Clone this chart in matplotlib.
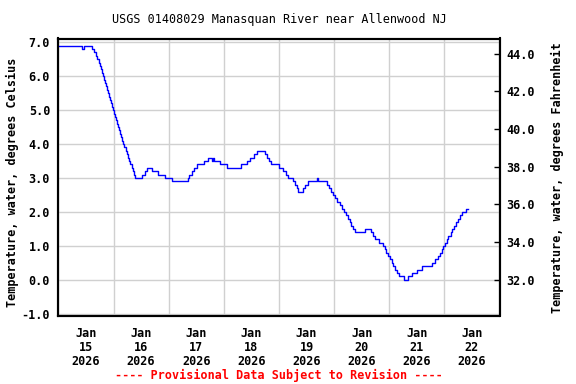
import matplotlib
matplotlib.use('Agg')
import matplotlib.pyplot as plt
import matplotlib.dates as mdates
from matplotlib.ticker import FormatStrFormatter
import numpy as np
import pandas as pd

start = pd.Timestamp('2026-01-15 00:00')

# hours since Jan 15 00:00 where the reading changes (step series)
hours = [0.0, 10.4, 11.15, 14.76, 15.5, 16.15, 16.8, 17.46, 18.11, 18.55,
         18.98, 19.42, 19.85, 20.29, 20.72, 21.16, 21.59, 22.03, 22.46, 22.9,
         23.33, 23.77, 24.2, 24.64, 25.07, 25.51, 25.94, 26.38, 26.81, 27.25,
         27.68, 28.12, 28.64, 29.21, 29.73, 30.3, 30.82, 31.34, 31.87, 32.39,
         32.91, 33.48, 36.52, 37.7, 38.7, 40.88, 43.14, 46.41, 49.24, 56.29,
         56.98, 58.03, 59.16, 60.21, 63.51, 65.26, 66.74, 67.43, 67.87, 70.35,
         73.27, 79.36, 82.23, 83.41, 85.15, 86.59, 89.94, 90.68, 91.68, 92.55,
         96.16, 97.91, 99.08, 100.08, 102.0, 103.0, 103.74, 104.44, 106.61, 107.35,
         108.79, 112.58, 113.14, 117.06, 117.93, 118.8, 119.67, 120.54, 121.41, 122.37,
         123.33, 124.33, 125.2, 126.07, 126.81, 127.51, 128.25, 129.12, 133.47, 135.95,
         137.09, 137.83, 139.57, 141.09, 141.96, 142.61, 143.49, 144.27, 145.01, 145.79,
         146.53, 147.4, 148.4, 150.58, 152.32, 153.8, 155.98, 158.16, 162.77, 163.95,
         165.38, 166.12, 166.86, 167.43, 168.3, 169.04, 169.74, 170.69, 171.35, 172.22,
         173.09, 173.96, 174.83, 175.83, 177.22, 178.18]

temp_c = [6.9, 6.8, 6.9, 6.8, 6.7, 6.6, 6.5, 6.4, 6.3, 6.2,
          6.1, 6.0, 5.9, 5.8, 5.7, 5.6, 5.5, 5.4, 5.3, 5.2,
          5.1, 5.0, 4.9, 4.8, 4.7, 4.6, 4.5, 4.4, 4.3, 4.2,
          4.1, 4.0, 3.9, 3.8, 3.7, 3.6, 3.5, 3.4, 3.3, 3.2,
          3.1, 3.0, 3.1, 3.2, 3.3, 3.2, 3.1, 3.0, 2.9, 3.0,
          3.1, 3.2, 3.3, 3.4, 3.5, 3.6, 3.5, 3.6, 3.5, 3.4,
          3.3, 3.4, 3.5, 3.6, 3.7, 3.8, 3.7, 3.6, 3.5, 3.4,
          3.3, 3.2, 3.1, 3.0, 2.9, 2.8, 2.7, 2.6, 2.7, 2.8,
          2.9, 3.0, 2.9, 2.8, 2.7, 2.6, 2.5, 2.4, 2.3, 2.2,
          2.1, 2.0, 1.9, 1.8, 1.7, 1.6, 1.5, 1.4, 1.5, 1.4,
          1.3, 1.2, 1.1, 1.0, 0.9, 0.8, 0.7, 0.6, 0.5, 0.4,
          0.3, 0.2, 0.1, 0.0, 0.1, 0.2, 0.3, 0.4, 0.5, 0.6,
          0.7, 0.8, 0.9, 1.0, 1.1, 1.2, 1.3, 1.4, 1.5, 1.6,
          1.7, 1.8, 1.9, 2.0, 2.1, 2.1]

day_labels = ['Jan\n15\n2026', 'Jan\n16\n2026', 'Jan\n17\n2026', 'Jan\n18\n2026',
              'Jan\n19\n2026', 'Jan\n20\n2026', 'Jan\n21\n2026', 'Jan\n22\n2026']
c_ticks = [-1, 0, 1, 2, 3, 4, 5, 6, 7]
f_ticks = [32, 34, 36, 38, 40, 42, 44]

times = [start + pd.Timedelta(hours=h) for h in hours]
noons = [start + pd.Timedelta(hours=12 + 24 * i) for i in range(len(day_labels))]

font = 'DejaVu Sans Mono'
fs = 8.5

fig = plt.figure(figsize=(5.76, 3.84), dpi=100)
ax = fig.add_axes([58.4 / 576, 1 - 315.5 / 384, (499.5 - 58.4) / 576, (315.5 - 38.5) / 384])

ax.plot(times, temp_c, drawstyle='steps-post', color='#0000ff', lw=1)

ax.set_xlim(start, start + pd.Timedelta(days=8))
ax.set_ylim(-1.05, 7.11)
ax.set_yticks(c_ticks)
ax.yaxis.set_major_formatter(FormatStrFormatter('%.1f'))
ax.xaxis.set_major_locator(mdates.DayLocator())
ax.xaxis.set_major_formatter(plt.NullFormatter())
ax.set_xticks(noons, labels=day_labels, minor=True, linespacing=1.1,
              family=font, fontsize=fs, fontweight='bold')
ax.tick_params(axis='x', which='both', length=0, pad=8)
ax.tick_params(axis='y', length=0, pad=6, labelsize=fs)
for lab in ax.get_yticklabels():
    lab.set_family(font)
    lab.set_fontweight('bold')
ax.grid(True, which='major', color='#d0d0d0', lw=1)
for sp in ax.spines.values():
    sp.set_linewidth(1.5)

ax2 = ax.twinx()
ax2.set_ylim(-1.05 * 1.8 + 32, 7.11 * 1.8 + 32)
ax2.set_yticks(f_ticks)
ax2.yaxis.set_major_formatter(FormatStrFormatter('%.1f'))
ax2.tick_params(axis='y', direction='in', length=4, width=1, pad=5, labelsize=fs)
for lab in ax2.get_yticklabels():
    lab.set_family(font)
    lab.set_fontweight('bold')
for sp in ax2.spines.values():
    sp.set_linewidth(1.5)

cx = (58.4 + 499.5) / 2 / 576
fig.text(cx, 1 - 20 / 384, 'USGS 01408029 Manasquan River near Allenwood NJ',
         ha='center', va='center', family=font, fontsize=fs)
fig.text(12 / 576, 1 - 182 / 384, 'Temperature, water, degrees Celsius',
         rotation=90, ha='center', va='center', family=font, fontsize=fs, fontweight='bold')
fig.text(557 / 576, 1 - 178 / 384, 'Temperature, water, degrees Fahrenheit',
         rotation=90, ha='center', va='center', family=font, fontsize=fs, fontweight='bold')
fig.text(cx, 1 - 375 / 384, '---- Provisional Data Subject to Revision ----',
         ha='center', va='center', family=font, fontsize=fs, fontweight='bold', color='#ff0000')

fig.savefig('out.png', dpi=100)
